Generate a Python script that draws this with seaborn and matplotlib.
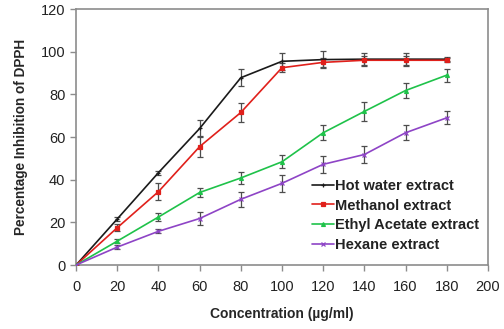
import numpy as np
import pandas as pd
import matplotlib
matplotlib.use("Agg")
import matplotlib.pyplot as plt
import seaborn as sns

# Concentrations (µg/ml) and % inhibition of DPPH for each extract
conc = [0, 20, 40, 60, 80, 100, 120, 140, 160, 180]
hot_water = [0, 21.6, 43.3, 64.0, 87.8, 95.5, 96.3, 96.5, 96.5, 96.5]
methanol = [0, 17.5, 34.4, 55.5, 71.5, 92.5, 95.0, 96.0, 96.0, 96.0]
ethyl_acetate = [0, 11.2, 22.5, 34.0, 40.8, 48.4, 62.0, 72.0, 81.8, 89.0]
hexane = [0, 8.4, 15.8, 21.8, 30.8, 38.3, 47.2, 51.8, 62.0, 69.0]

hot_water_err = [0, 1.0, 1.0, 4.0, 4.0, 4.0, 4.0, 3.0, 3.0, 1.0]
methanol_err = [0, 1.5, 4.0, 5.0, 4.5, 2.0, 2.0, 2.0, 2.0, 1.0]
ethyl_acetate_err = [0, 1.0, 2.0, 2.0, 3.0, 3.0, 3.5, 4.5, 3.5, 3.0]
hexane_err = [0, 1.0, 1.0, 3.0, 3.5, 4.0, 4.0, 4.0, 3.5, 3.0]

labels = ["Hot water extract", "Methanol extract", "Ethyl Acetate extract", "Hexane extract"]
colors = ["#1a1a1a", "#e0201b", "#1fc24a", "#8e44c6"]
markers = ["+", "s", "^", "x"]

series = [hot_water, methanol, ethyl_acetate, hexane]
errors = [hot_water_err, methanol_err, ethyl_acetate_err, hexane_err]

df = pd.concat(
    [pd.DataFrame({"conc": conc, "inhib": vals, "err": err, "extract": name})
     for name, vals, err in zip(labels, series, errors)],
    ignore_index=True,
)

sns.set_style("white")
plt.rcParams["font.family"] = ["Liberation Sans", "DejaVu Sans"]

fig = plt.figure(figsize=(5.04, 3.29), dpi=100)
ax = fig.add_axes([0.151, 0.1945, 0.817, 0.778])

# error bars first so the lines sit on top
for name in labels:
    sub = df[df["extract"] == name]
    ax.errorbar(sub["conc"], sub["inhib"], yerr=sub["err"], fmt="none",
                ecolor="#4d4d4d", elinewidth=0.9, capsize=2.2, capthick=0.9, zorder=2)

for name, col, mk in zip(labels, colors, markers):
    sub = df[df["extract"] == name]
    sns.lineplot(data=sub, x="conc", y="inhib", color=col, marker=mk,
                 markersize=2.8, markeredgewidth=0.9, markeredgecolor=col,
                 linewidth=1.2, label=name, ax=ax, zorder=3)

ax.set_xlim(0, 200)
ax.set_ylim(0, 120)
ax.set_xticks(range(0, 201, 20))
ax.set_yticks(range(0, 121, 20))

for s in ax.spines.values():
    s.set_visible(True)
    s.set_color("#8c8c8c")
    s.set_linewidth(1.2)

ax.tick_params(axis="both", direction="out", length=4.3, width=1.0, color="#8c8c8c",
               labelsize=10.5, labelcolor="#222222", bottom=True, left=True)
ax.tick_params(axis="y", pad=3.5)
ax.tick_params(axis="x", pad=6.5)

ax.set_xlabel("Concentration (µg/ml)", fontsize=10, fontweight="bold", labelpad=9)
ax.set_ylabel("Percentage Inhibition of DPPH", fontsize=9.8, fontweight="bold", labelpad=9)

leg = ax.legend(loc="lower right", bbox_to_anchor=(1.0, 0.018), frameon=False,
                fontsize=10.5, handlelength=1.5, handletextpad=0.1, labelspacing=0.38,
                borderaxespad=0.2)
for t in leg.get_texts():
    t.set_fontweight("bold")
    t.set_color("#222222")

fig.savefig("out.png", dpi=100)
